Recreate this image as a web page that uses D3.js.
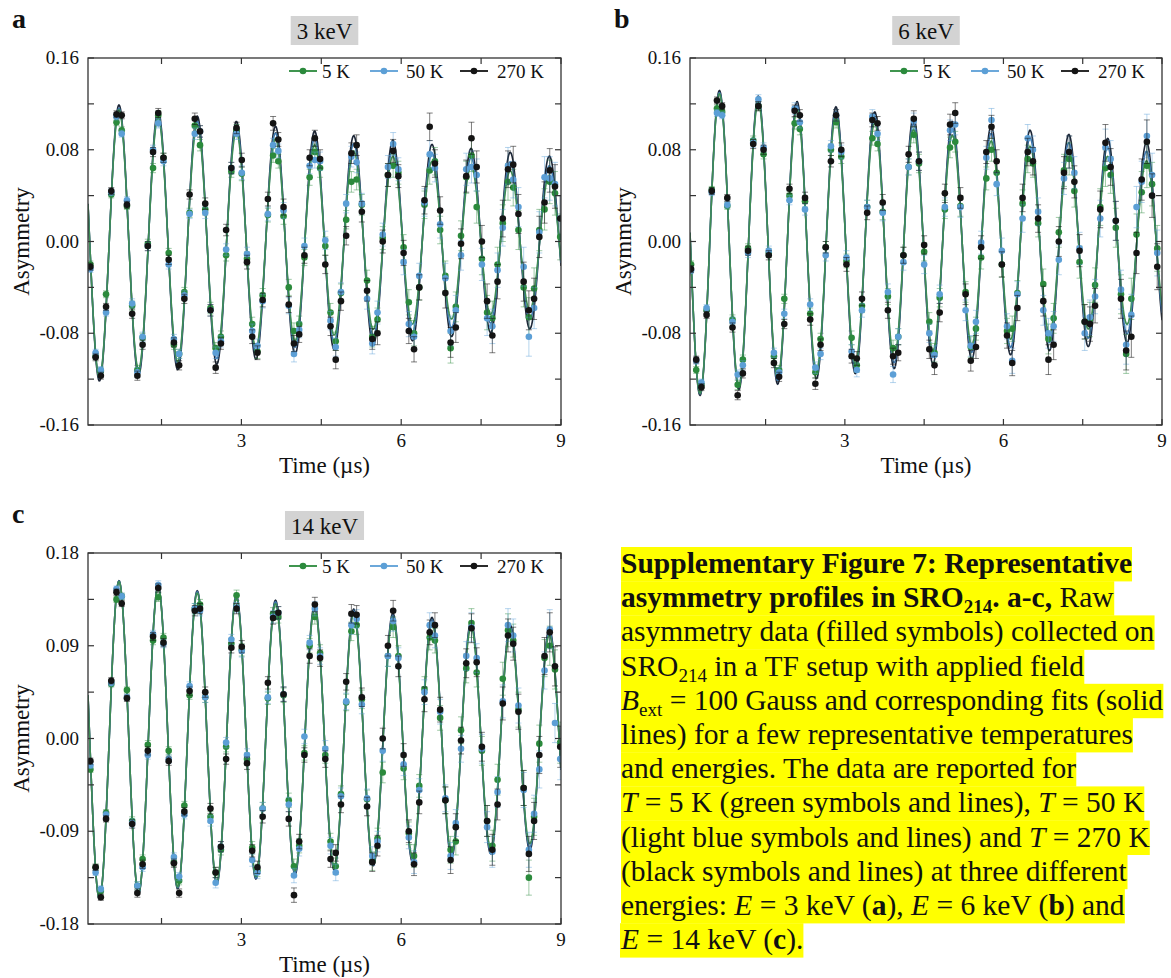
<!DOCTYPE html>
<html>
<head>
<meta charset="utf-8">
<script src="https://cdn.jsdelivr.net/npm/d3@7"></script>
<style>
  body { margin: 0; background: #fff; }
  text { font-family: "Liberation Serif", "Times New Roman", serif; fill: #111; white-space: pre; }
</style>
</head>
<body>
<svg id="fig" width="1171" height="978"></svg>
<script>
// Series and shared sampling
const series = ["5 K", "50 K", "270 K"];

// bin times (µs), panels a and c
const timesAC = [
  0.165, 0.263, 0.361, 0.459, 0.557, 0.655, 0.753, 0.851, 0.949, 1.047,
  1.145, 1.243, 1.341, 1.439, 1.537, 1.635, 1.733, 1.831, 1.929, 2.027,
  2.125, 2.223, 2.321, 2.419, 2.517, 2.615, 2.713, 2.811, 2.909, 3.007,
  3.105, 3.203, 3.301, 3.399, 3.497, 3.595, 3.693, 3.791, 3.889, 3.987,
  4.085, 4.183, 4.281, 4.379, 4.477, 4.575, 4.673, 4.771, 4.869, 4.967,
  5.065, 5.163, 5.261, 5.359, 5.457, 5.555, 5.653, 5.751, 5.849, 5.947,
  6.045, 6.143, 6.241, 6.339, 6.437, 6.535, 6.633, 6.731, 6.829, 6.927,
  7.025, 7.123, 7.221, 7.319, 7.417, 7.515, 7.613, 7.711, 7.809, 7.907,
  8.005, 8.103, 8.201, 8.299, 8.397, 8.495, 8.593, 8.691, 8.789, 8.887,
  8.985
];
// bin times (µs), panel b
const timesB = [
  0.090, 0.188, 0.286, 0.384, 0.482, 0.580, 0.678, 0.776, 0.874, 0.972,
  1.070, 1.168, 1.266, 1.364, 1.462, 1.560, 1.658, 1.756, 1.854, 1.952,
  2.050, 2.148, 2.246, 2.344, 2.442, 2.540, 2.638, 2.736, 2.834, 2.932,
  3.030, 3.128, 3.226, 3.324, 3.422, 3.520, 3.618, 3.716, 3.814, 3.912,
  4.010, 4.108, 4.206, 4.304, 4.402, 4.500, 4.598, 4.696, 4.794, 4.892,
  4.990, 5.088, 5.186, 5.284, 5.382, 5.480, 5.578, 5.676, 5.774, 5.872,
  5.970, 6.068, 6.166, 6.264, 6.362, 6.460, 6.558, 6.656, 6.754, 6.852,
  6.950, 7.048, 7.146, 7.244, 7.342, 7.440, 7.538, 7.636, 7.734, 7.832,
  7.930, 8.028, 8.126, 8.224, 8.322, 8.420, 8.518, 8.616, 8.714, 8.812,
  8.910
];
// error bar half-lengths
const errBars = [
  0.003, 0.003, 0.003, 0.003, 0.003, 0.003, 0.003, 0.003, 0.004, 0.004,
  0.004, 0.004, 0.004, 0.004, 0.004, 0.004, 0.004, 0.004, 0.004, 0.004,
  0.005, 0.005, 0.005, 0.005, 0.005, 0.005, 0.005, 0.005, 0.005, 0.006,
  0.006, 0.006, 0.006, 0.006, 0.006, 0.006, 0.006, 0.007, 0.007, 0.007,
  0.007, 0.007, 0.007, 0.007, 0.008, 0.008, 0.008, 0.008, 0.008, 0.008,
  0.009, 0.009, 0.009, 0.009, 0.009, 0.010, 0.010, 0.010, 0.010, 0.010,
  0.011, 0.011, 0.011, 0.011, 0.012, 0.012, 0.012, 0.012, 0.013, 0.013,
  0.013, 0.013, 0.014, 0.014, 0.014, 0.014, 0.015, 0.015, 0.015, 0.016,
  0.016, 0.016, 0.017, 0.017, 0.017, 0.018, 0.018, 0.018, 0.019, 0.019,
  0.020
];

// Panel a, 3 keV
const a5K = [
  -0.020,-0.100,-0.113,-0.046,0.041,0.104,0.097,0.031,-0.056,-0.112,-0.084,-0.002,0.064,0.110,0.073,
  -0.010,-0.090,-0.098,-0.044,0.025,0.101,0.084,0.028,-0.058,-0.093,-0.083,-0.012,0.061,0.097,0.059,
  -0.015,-0.072,-0.096,-0.047,0.023,0.075,0.070,0.022,-0.040,-0.078,-0.072,-0.014,0.056,0.078,0.064,
  -0.004,-0.062,-0.087,-0.045,0.019,0.052,0.054,0.032,-0.034,-0.083,-0.068,0.003,0.058,0.066,0.060,
  -0.005,-0.053,-0.080,-0.040,0.032,0.062,0.070,0.010,-0.030,-0.093,-0.057,0.005,0.056,0.075,0.030,
  -0.015,-0.062,-0.067,-0.020,0.016,0.052,0.047,0.010,-0.040,-0.066,-0.041,0.010,0.028,0.052,0.042,
  0.004
];
const a50K = [
  -0.024,-0.097,-0.112,-0.062,0.043,0.109,0.094,0.036,-0.054,-0.114,-0.083,-0.004,0.080,0.103,0.070,
  -0.020,-0.085,-0.098,-0.047,0.024,0.094,0.096,0.025,-0.060,-0.097,-0.087,-0.007,0.064,0.094,0.060,
  -0.011,-0.078,-0.091,-0.052,0.024,0.084,0.079,0.027,-0.056,-0.098,-0.077,-0.004,0.066,0.071,0.070,
  0.001,-0.069,-0.092,-0.044,0.033,0.074,0.069,0.033,-0.050,-0.089,-0.062,0.006,0.065,0.085,0.063,
  -0.018,-0.072,-0.083,-0.030,0.034,0.076,0.064,0.015,-0.032,-0.078,-0.060,-0.012,0.063,0.065,0.058,
  -0.020,-0.067,-0.074,-0.025,0.012,0.066,0.054,0.030,-0.022,-0.083,-0.058,0.008,0.056,0.055,0.050,
  0.020
];
const a270K = [
  -0.022,-0.101,-0.117,-0.057,0.044,0.111,0.110,0.032,-0.063,-0.117,-0.090,-0.004,0.078,0.112,0.073,
  -0.016,-0.088,-0.108,-0.050,0.041,0.107,0.096,0.033,-0.060,-0.110,-0.089,0.010,0.064,0.099,0.071,
  -0.018,-0.083,-0.097,-0.051,0.037,0.103,0.089,0.030,-0.055,-0.089,-0.081,-0.012,0.073,0.090,0.072,
  -0.020,-0.074,-0.103,-0.052,0.005,0.077,0.084,0.026,-0.043,-0.085,-0.080,0.000,0.058,0.079,0.057,
  -0.010,-0.078,-0.094,-0.040,0.036,0.100,0.068,0.027,-0.045,-0.088,-0.075,-0.002,0.057,0.090,0.065,
  0.000,-0.052,-0.082,-0.035,0.020,0.063,0.067,0.024,-0.035,-0.060,-0.050,0.004,0.034,0.062,0.048,
  0.020
];

// Panel b, 6 keV
const b5K = [
  -0.020,-0.112,-0.125,-0.060,0.045,0.116,0.113,0.031,-0.068,-0.125,-0.103,-0.006,0.088,0.118,0.076,
  -0.010,-0.100,-0.112,-0.050,0.040,0.103,0.098,0.035,-0.063,-0.114,-0.085,-0.005,0.080,0.104,0.074,
  -0.017,-0.084,-0.108,-0.056,0.030,0.090,0.085,0.026,-0.048,-0.093,-0.083,-0.012,0.065,0.093,0.068,
  -0.009,-0.070,-0.097,-0.049,0.028,0.082,0.087,0.031,-0.044,-0.092,-0.076,-0.014,0.055,0.080,0.060,
  -0.020,-0.078,-0.076,-0.045,0.033,0.072,0.068,0.016,-0.037,-0.085,-0.067,0.008,0.062,0.072,0.044,
  -0.018,-0.070,-0.068,-0.038,0.030,0.064,0.058,0.012,-0.046,-0.098,-0.050,0.006,0.043,0.066,0.050,
  -0.006
];
const b50K = [
  -0.025,-0.104,-0.123,-0.058,0.043,0.112,0.110,0.032,-0.070,-0.116,-0.108,-0.010,0.086,0.124,0.082,
  -0.008,-0.097,-0.114,-0.063,0.036,0.116,0.104,0.028,-0.055,-0.110,-0.098,-0.012,0.083,0.110,0.078,
  -0.014,-0.096,-0.112,-0.060,0.030,0.109,0.094,0.025,-0.044,-0.116,-0.083,-0.018,0.065,0.105,0.070,
  -0.020,-0.080,-0.099,-0.046,0.030,0.097,0.102,0.030,-0.060,-0.091,-0.070,-0.001,0.073,0.106,0.050,
  -0.008,-0.074,-0.104,-0.046,0.020,0.090,0.080,0.026,-0.060,-0.080,-0.074,-0.016,0.055,0.078,0.060,
  -0.006,-0.080,-0.066,-0.048,0.020,0.082,0.072,0.018,-0.042,-0.090,-0.064,0.030,0.052,0.092,0.058,
  -0.010
];
const b270K = [
  -0.024,-0.103,-0.127,-0.064,0.044,0.123,0.118,0.038,-0.075,-0.134,-0.115,-0.008,0.085,0.118,0.080,
  -0.012,-0.106,-0.118,-0.072,0.046,0.114,0.110,0.038,-0.068,-0.124,-0.090,-0.005,0.070,0.110,0.080,
  -0.020,-0.100,-0.102,-0.050,0.025,0.106,0.103,0.034,-0.060,-0.100,-0.097,-0.012,0.076,0.107,0.070,
  -0.003,-0.094,-0.108,-0.062,0.042,0.102,0.112,0.038,-0.046,-0.104,-0.092,-0.005,0.078,0.100,0.070,
  -0.020,-0.082,-0.106,-0.058,0.038,0.078,0.070,0.020,-0.052,-0.103,-0.090,0.000,0.060,0.078,0.052,
  -0.008,-0.070,-0.072,-0.056,0.028,0.086,0.065,0.018,-0.050,-0.095,-0.083,-0.010,0.054,0.087,0.040,
  -0.022
];

// Panel c, 14 keV
const c5K = [
  -0.030,-0.125,-0.148,-0.072,0.053,0.135,0.138,0.047,-0.080,-0.143,-0.117,-0.006,0.095,0.137,0.098,
  -0.012,-0.120,-0.138,-0.065,0.042,0.126,0.130,0.040,-0.076,-0.130,-0.108,-0.008,0.092,0.139,0.086,
  -0.020,-0.106,-0.128,-0.068,0.039,0.121,0.118,0.042,-0.060,-0.124,-0.104,-0.014,0.090,0.118,0.083,
  -0.016,-0.100,-0.124,-0.054,0.035,0.104,0.110,0.038,-0.059,-0.119,-0.097,-0.033,0.080,0.108,0.080,
  -0.029,-0.092,-0.114,-0.046,0.048,0.098,0.095,0.020,-0.060,-0.108,-0.100,0.008,0.068,0.112,0.064,
  -0.012,-0.080,-0.104,-0.040,0.058,0.105,0.095,0.028,-0.048,-0.135,-0.076,-0.005,0.078,0.090,0.067,
  -0.004
];
const c50K = [
  -0.026,-0.130,-0.146,-0.074,0.054,0.145,0.138,0.040,-0.082,-0.143,-0.125,-0.016,0.101,0.149,0.092,
  -0.020,-0.115,-0.134,-0.074,0.051,0.126,0.124,0.040,-0.080,-0.140,-0.105,-0.004,0.096,0.127,0.085,
  -0.016,-0.118,-0.130,-0.068,0.040,0.118,0.122,0.043,-0.064,-0.133,-0.107,0.002,0.093,0.126,0.080,
  -0.010,-0.104,-0.130,-0.056,0.036,0.110,0.116,0.033,-0.058,-0.114,-0.100,-0.012,0.080,0.114,0.078,
  -0.025,-0.096,-0.120,-0.050,0.045,0.110,0.100,0.026,-0.058,-0.114,-0.082,-0.010,0.080,0.108,0.078,
  -0.010,-0.086,-0.110,-0.052,0.036,0.110,0.100,0.032,-0.050,-0.108,-0.073,-0.030,0.066,0.106,0.015,
  -0.020
];
const c270K = [
  -0.022,-0.125,-0.154,-0.078,0.056,0.142,0.131,0.039,-0.083,-0.150,-0.122,-0.012,0.099,0.146,0.093,
  -0.022,-0.121,-0.150,-0.071,0.046,0.124,0.126,0.045,-0.068,-0.130,-0.105,-0.020,0.088,0.126,0.089,
  -0.024,-0.109,-0.125,-0.076,0.054,0.117,0.122,0.043,-0.078,-0.152,-0.100,-0.016,0.080,0.130,0.078,
  -0.020,-0.117,-0.111,-0.064,0.055,0.121,0.120,0.040,-0.066,-0.120,-0.104,0.000,0.090,0.124,0.070,
  -0.016,-0.090,-0.122,-0.062,0.038,0.103,0.110,0.028,-0.060,-0.118,-0.086,-0.002,0.073,0.107,0.074,
  -0.008,-0.080,-0.108,-0.064,0.034,0.100,0.092,0.026,-0.048,-0.112,-0.080,-0.016,0.080,0.103,0.070,
  -0.008
];

// Fit parameters: amplitude, relaxation rate (1/µs), peak time (µs), period (µs)
const fitPeriod = 0.7345;
const fitAmpA = [0.122, 0.122, 0.124];
const fitRateA = [0.085, 0.070, 0.058];
const fitAmpB = [0.135, 0.135, 0.136];
const fitRateB = [0.075, 0.062, 0.052];
const fitAmpC = [0.158, 0.158, 0.158];
const fitRateC = [0.052, 0.048, 0.045];
const fitPeakTime = [-0.032, -0.107, -0.032];

const xTicks = [1.5, 3, 4.5, 6, 7.5, 9];
const xLabels = [3, 6, 9];

// Styles
const pointColors = ["#2b8a3c", "#5c9fd6", "#141414"];
const fitColors = ["#3f8c55", "#3f78ad", "#1b2536"];

const svg = d3.select("#fig");
svg.append("rect").attr("width", 1171).attr("height", 978).attr("fill", "#fff");

const panels = [
  { letter: "a", title: "3 keV", left: 88, right: 561, top: 58, bottom: 425, xMin: 0.12,
    yMax: 0.16, yStep: 0.04, times: timesAC, values: [a5K, a50K, a270K],
    amp: fitAmpA, rate: fitRateA, peak: fitPeakTime[0] },
  { letter: "b", title: "6 keV", left: 690, right: 1162, top: 58, bottom: 425, xMin: 0.07,
    yMax: 0.16, yStep: 0.04, times: timesB, values: [b5K, b50K, b270K],
    amp: fitAmpB, rate: fitRateB, peak: fitPeakTime[1] },
  { letter: "c", title: "14 keV", left: 88, right: 561, top: 553, bottom: 924, xMin: 0.12,
    yMax: 0.18, yStep: 0.045, times: timesAC, values: [c5K, c50K, c270K],
    amp: fitAmpC, rate: fitRateC, peak: fitPeakTime[2] }
];

// legend offsets from the right edge of the frame
const legendPos = [
  { x1: -272, x2: -244, tx: -239 },
  { x1: -191, x2: -163, tx: -155 },
  { x1: -101, x2: -73, tx: -64 }
];

panels.forEach((p, pi) => drawPanel(p, pi));

function drawPanel(p, pi) {
  const x = d3.scaleLinear().domain([p.xMin, 9]).range([p.left, p.right]);
  const y = d3.scaleLinear().domain([-p.yMax, p.yMax]).range([p.bottom, p.top]);
  const g = svg.append("g");
  const cx = (p.left + p.right) / 2;

  // panel letter and title box
  g.append("text").attr("x", p.left - 76).attr("y", p.top - 30)
    .style("font-size", "28px").style("font-weight", "bold").text(p.letter);
  const tb = g.append("g");
  const tt = tb.append("text").attr("x", cx).attr("y", p.top - 19)
    .attr("text-anchor", "middle").style("font-size", "23px").text(p.title);
  const bw = tt.node().getComputedTextLength() + 12;
  tb.insert("rect", "text").attr("x", cx - bw / 2).attr("y", p.top - 42)
    .attr("width", bw).attr("height", 29).attr("fill", "#d3d3d3");

  const clipId = "clip" + pi;
  svg.append("defs").append("clipPath").attr("id", clipId)
    .append("rect").attr("x", p.left).attr("y", p.top)
    .attr("width", p.right - p.left).attr("height", p.bottom - p.top);
  const plot = g.append("g").attr("clip-path", `url(#${clipId})`);

  // fit curves, green drawn last
  const tFine = d3.range(p.xMin, 9.001, 0.01);
  [2, 1, 0].forEach(s => {
    const line = d3.line()
      .x(t => x(t))
      .y(t => y(p.amp[s] * Math.exp(-p.rate[s] * t) * Math.cos(2 * Math.PI * (t - p.peak) / fitPeriod)));
    plot.append("path").attr("d", line(tFine))
      .attr("fill", "none").attr("stroke", fitColors[s]).attr("stroke-width", 1.6);
  });

  // error bars and symbols
  [0, 1, 2].forEach(s => {
    const pts = p.times.map((t, i) => ({ t, v: p.values[s][i], e: errBars[i] }));
    const eb = plot.append("g").attr("stroke", pointColors[s])
      .attr("stroke-opacity", s === 2 ? 0.55 : 0.45).attr("stroke-width", 1);
    eb.selectAll("path").data(pts).join("path")
      .attr("d", d => {
        const xx = x(d.t), y1 = y(d.v + d.e), y2 = y(d.v - d.e);
        return `M${xx},${y1}V${y2}M${xx - 3},${y1}H${xx + 3}M${xx - 3},${y2}H${xx + 3}`;
      });
    plot.append("g").selectAll("circle").data(pts).join("circle")
      .attr("cx", d => x(d.t)).attr("cy", d => y(d.v)).attr("r", 3.3)
      .attr("fill", pointColors[s]);
  });

  // frame and inward ticks
  g.append("rect").attr("x", p.left).attr("y", p.top)
    .attr("width", p.right - p.left).attr("height", p.bottom - p.top)
    .attr("fill", "none").attr("stroke", "#333").attr("stroke-width", 1.3);
  const yTicks = d3.range(-p.yMax, p.yMax + 1e-6, p.yStep);
  const tickG = g.append("g").attr("stroke", "#333").attr("stroke-width", 1.2);
  yTicks.forEach(v => {
    tickG.append("line").attr("x1", p.left).attr("x2", p.left + 6).attr("y1", y(v)).attr("y2", y(v));
    tickG.append("line").attr("x1", p.right).attr("x2", p.right - 6).attr("y1", y(v)).attr("y2", y(v));
  });
  xTicks.forEach(t => {
    tickG.append("line").attr("x1", x(t)).attr("x2", x(t)).attr("y1", p.bottom).attr("y2", p.bottom - 6);
    tickG.append("line").attr("x1", x(t)).attr("x2", x(t)).attr("y1", p.top).attr("y2", p.top + 6);
  });

  // tick labels (plain hyphen for negatives, as in the figure)
  const fmt = v => d3.format(".2f")(v).replace("\u2212", "-");
  yTicks.filter((v, i) => i % 2 === 0).forEach(v => {
    g.append("text").attr("x", p.left - 9).attr("y", y(v) + 6)
      .attr("text-anchor", "end").style("font-size", "19px").text(fmt(v));
  });
  xLabels.forEach(t => {
    g.append("text").attr("x", x(t)).attr("y", p.bottom + 22)
      .attr("text-anchor", "middle").style("font-size", "19px").text(t);
  });

  // axis titles
  g.append("text").attr("x", cx).attr("y", p.bottom + 48)
    .attr("text-anchor", "middle").style("font-size", "23px").text("Time (µs)");
  g.append("text").attr("transform", `translate(${p.left - 59},${(p.top + p.bottom) / 2}) rotate(-90)`)
    .attr("text-anchor", "middle").style("font-size", "23px").text("Asymmetry");

  // legend
  const ly = p.top + 13;
  series.forEach((name, s) => {
    const lp = legendPos[s];
    g.append("line").attr("x1", p.right + lp.x1).attr("x2", p.right + lp.x2)
      .attr("y1", ly).attr("y2", ly).attr("stroke", pointColors[s]).attr("stroke-width", 1.8);
    g.append("circle").attr("cx", p.right + (lp.x1 + lp.x2) / 2).attr("cy", ly)
      .attr("r", 3.3).attr("fill", pointColors[s]);
    g.append("text").attr("x", p.right + lp.tx).attr("y", ly + 6.5)
      .style("font-size", "19px").text(name);
  });
}

// Caption with yellow highlight
const captionLines = [
  [["Supplementary Figure 7: Representative", "b"]],
  [["asymmetry profiles in SRO", "b"], ["214", "bsub"], [". a-c,", "b"], [" Raw", ""]],
  [["asymmetry data (filled symbols) collected on", ""]],
  [["SRO", ""], ["214", "sub"], [" in a TF setup with applied field", ""]],
  [["B", "i"], ["ext", "sub"], [" = 100 Gauss and corresponding fits (solid", ""]],
  [["lines) for a few representative temperatures", ""]],
  [["and energies. The data are reported for", ""]],
  [["T", "i"], [" = 5 K (green symbols and lines), ", ""], ["T", "i"], [" = 50 K", ""]],
  [["(light blue symbols and lines) and ", ""], ["T", "i"], [" = 270 K", ""]],
  [["(black symbols and lines) at three different", ""]],
  [["energies: ", ""], ["E", "i"], [" = 3 keV (", ""], ["a", "b"], ["), ", ""], ["E", "i"], [" = 6 keV (", ""], ["b", "b"], [") and", ""]],
  [["E", "i"], [" = 14 keV (", ""], ["c", "b"], [").", ""]]
];

const capG = svg.append("g");
const hlG = capG.append("g");
captionLines.forEach((segs, i) => {
  const yb = 573 + i * 34.2;
  const t = capG.append("text").attr("x", 621).attr("y", yb).style("font-size", "29.5px");
  let shift = 0;
  segs.forEach(([s, st]) => {
    const ts = t.append("tspan").text(s);
    const sub = st.includes("sub");
    const dy = (sub ? 6 : 0) - shift;
    if (dy) ts.attr("dy", dy);
    shift = sub ? 6 : 0;
    if (sub) ts.style("font-size", "19px");
    if (st.startsWith("b")) ts.style("font-weight", "bold");
    if (st === "i") ts.style("font-style", "italic");
  });
  const bb = t.node().getBBox();
  hlG.append("rect").attr("x", bb.x).attr("y", yb - 26)
    .attr("width", bb.width).attr("height", 34.4).attr("fill", "#ffff00");
});
</script>
</body>
</html>
